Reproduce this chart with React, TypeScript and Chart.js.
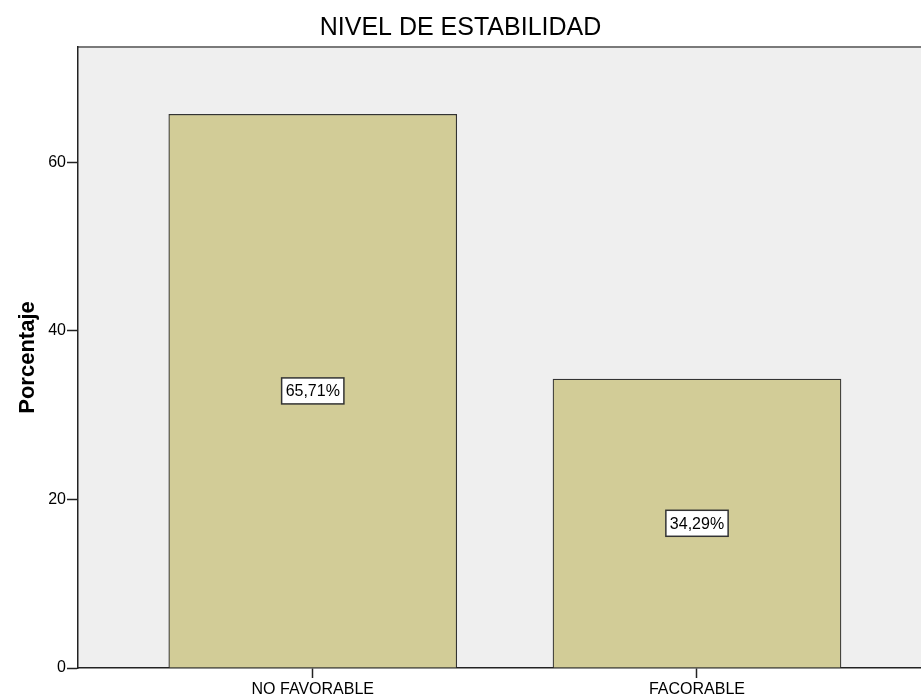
import React, { useEffect, useRef } from "react";
import { Chart, registerables } from "chart.js";

Chart.register(...registerables);

const chartTitle = "NIVEL DE ESTABILIDAD";
const yAxisTitle = "Porcentaje";
const categories = ["NO FAVORABLE", "FACORABLE"];
const categoryPositions = [1, 2];
const percentages = [65.71, 34.29];
const yTickValues = [0, 20, 40, 60];

const FONT = "'Liberation Sans', Arial, Helvetica, sans-serif";

const plotBackground = {
  id: "plotBackground",
  beforeDraw(chart: any) {
    const { ctx, chartArea } = chart;
    ctx.save();
    ctx.fillStyle = "#efefef";
    ctx.fillRect(chartArea.left, chartArea.top, chartArea.right - chartArea.left, chartArea.bottom - chartArea.top);
    ctx.strokeStyle = "#7a7a7a";
    ctx.lineWidth = 2;
    ctx.beginPath();
    ctx.moveTo(chartArea.left, chartArea.top);
    ctx.lineTo(chartArea.right, chartArea.top);
    ctx.stroke();
    ctx.restore();
  },
};

const valueBoxes = {
  id: "valueBoxes",
  afterDatasetsDraw(chart: any) {
    const { ctx } = chart;
    const meta = chart.getDatasetMeta(0);
    ctx.save();
    ctx.font = `16px ${FONT}`;
    ctx.textAlign = "center";
    ctx.textBaseline = "middle";
    meta.data.forEach((bar: any, i: number) => {
      const label = percentages[i].toFixed(2).replace(".", ",") + "%";
      const cx = bar.x;
      const cy = (bar.y + bar.base) / 2;
      const w = ctx.measureText(label).width + 8;
      const h = 26;
      ctx.fillStyle = "#ffffff";
      ctx.fillRect(cx - w / 2, cy - h / 2, w, h);
      ctx.strokeStyle = "#333333";
      ctx.lineWidth = 1.5;
      ctx.strokeRect(cx - w / 2, cy - h / 2, w, h);
      ctx.fillStyle = "#000000";
      ctx.fillText(label, cx, cy + 1);
    });
    ctx.restore();
  },
};

export default function App() {
  const canvasRef = useRef<HTMLCanvasElement | null>(null);

  useEffect(() => {
    document.body.style.margin = "0";
    const canvas = canvasRef.current;
    if (!canvas) return;
    const chart = new Chart(canvas, {
      type: "bar",
      data: {
        datasets: [
          {
            data: categoryPositions.map((x, i) => ({ x, y: percentages[i] })),
            backgroundColor: "#d2cc97",
            borderColor: "#333333",
            borderWidth: 1.2,
            barThickness: 288,
          },
        ],
      },
      options: {
        responsive: false,
        animation: false,
        devicePixelRatio: 1,
        layout: { padding: 0 },
        plugins: {
          legend: { display: false },
          tooltip: { enabled: false },
          title: {
            display: true,
            text: chartTitle,
            color: "#000000",
            font: { family: FONT, size: 25, weight: "normal" },
            padding: { top: 13, bottom: 4 },
          },
        },
        scales: {
          x: {
            type: "linear",
            min: 0.389,
            max: 2.583,
            offset: false,
            afterBuildTicks: (scale: any) => {
              scale.ticks = categoryPositions.map((v) => ({ value: v }));
            },
            afterFit: (scale: any) => {
              scale.height = 29;
            },
            ticks: {
              autoSkip: false,
              maxRotation: 0,
              padding: 2,
              color: "#000000",
              font: { family: FONT, size: 16 },
              callback: (value: any) => {
                const idx = categoryPositions.indexOf(Number(value));
                return idx >= 0 ? categories[idx] : "";
              },
            },
            grid: {
              display: true,
              offset: false,
              drawOnChartArea: false,
              drawTicks: true,
              tickLength: 10,
              tickWidth: 1.5,
              color: "#222222",
            },
            border: { display: true, color: "#222222", width: 1.5 },
          },
          y: {
            type: "linear",
            min: 0,
            max: 73.7,
            afterBuildTicks: (scale: any) => {
              scale.ticks = yTickValues.map((v) => ({ value: v }));
            },
            afterFit: (scale: any) => {
              scale.width = 78;
            },
            ticks: {
              padding: 1,
              color: "#000000",
              font: { family: FONT, size: 16 },
            },
            grid: {
              display: true,
              drawOnChartArea: false,
              drawTicks: true,
              tickLength: 11,
              tickWidth: 1.5,
              color: "#222222",
            },
            border: { display: true, color: "#222222", width: 1.5 },
            title: {
              display: true,
              text: yAxisTitle,
              color: "#000000",
              font: { family: FONT, size: 22, weight: "bold" },
              padding: { top: 15, bottom: 0 },
            },
          },
        },
      },
      plugins: [plotBackground, valueBoxes],
    } as any);
    return () => chart.destroy();
  }, []);

  return (
    <div style={{ width: 921, height: 697, background: "#ffffff" }}>
      <canvas ref={canvasRef} width={921} height={697} />
    </div>
  );
}
